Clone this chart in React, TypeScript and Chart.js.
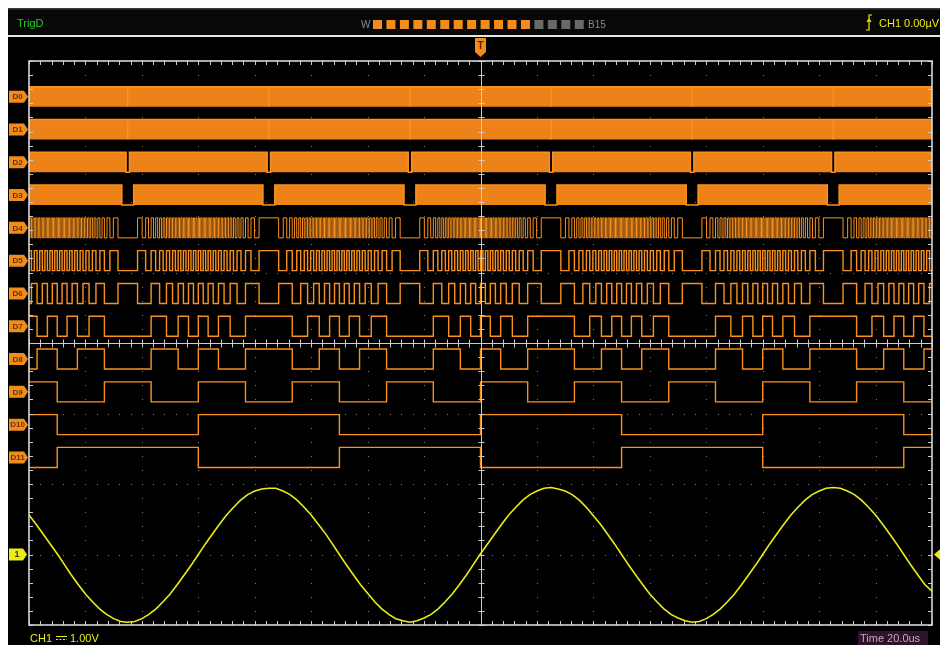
import React, { useEffect, useRef } from "react";
import { Chart, registerables } from "chart.js";

Chart.register(...registerables);

const TIME_MIN_US = -160; // 16 div x 20 µs/div
const TIME_MAX_US = 160;
const TIME_DIV_US = 20;
const CH1_SAMPLE_STEP_US = 2.5;

// CH1 analog trace (volts), one sample every 2.5 µs from -160 µs
const CH1_VOLTS = [
  0.56, 0.43, 0.29, 0.15, 0.01, -0.14, -0.29, -0.43, -0.56, -0.67, -0.77, -0.85, -0.91, -0.95, -0.96, -0.95, -0.91, -0.85, -0.77, -0.67,
  -0.56, -0.43, -0.29, -0.15, 0.0, 0.15, 0.29, 0.43, 0.56, 0.67, 0.77, 0.85, 0.9, 0.93, 0.94, 0.94, 0.9, 0.85, 0.77, 0.67,
  0.56, 0.43, 0.3, 0.15, 0.0, -0.15, -0.29, -0.43, -0.55, -0.67, -0.77, -0.85, -0.91, -0.94, -0.96, -0.94, -0.9, -0.85, -0.77, -0.67,
  -0.56, -0.43, -0.29, -0.14, 0.01, 0.15, 0.29, 0.43, 0.56, 0.67, 0.77, 0.85, 0.9, 0.94, 0.95, 0.93, 0.9, 0.85, 0.77, 0.67,
  0.55, 0.43, 0.29, 0.15, 0.0, -0.15, -0.29, -0.43, -0.56, -0.67, -0.77, -0.85, -0.9, -0.94, -0.96, -0.95, -0.91, -0.85, -0.77, -0.67,
  -0.56, -0.43, -0.29, -0.15, 0.0, 0.15, 0.29, 0.43, 0.56, 0.67, 0.77, 0.85, 0.9, 0.94, 0.95, 0.94, 0.9, 0.85, 0.77, 0.67,
  0.56, 0.43, 0.29, 0.15, 0.0, -0.15, -0.29, -0.43, -0.52,
];

// times (µs) where CH1 crosses 0 V; every digital bit toggles there
const ZERO_CROSSINGS_US = [-150, -100, -50, 0, 50, 100, 150];

const CHANNEL_LABELS = ["D0", "D1", "D2", "D3", "D4", "D5", "D6", "D7", "D8", "D9", "D10", "D11"];
// logic level of each channel at the left edge of the screen
const START_LEVELS = [1, 0, 1, 0, 0, 1, 0, 1, 0, 1, 1, 0];

// D0..D3 toggle faster than a pixel: half width (µs) of the burst around each zero crossing
const BURST_HALF_WIDTH_US = [25, 25, 24.4, 22.9];

// further edges (µs before and after each zero crossing) of the slower bits
const D4_OFFSETS_US = [
  0.43, 0.86, 1.3, 1.73, 2.16, 2.6, 3.04, 3.48, 3.92, 4.37, 4.82, 5.28, 5.73, 6.2, 6.67, 7.14, 7.63, 8.12,
  8.62, 9.13, 9.64, 10.18, 10.72, 11.28, 11.86, 12.46, 13.07, 13.72, 14.4, 15.12, 15.89, 16.72, 17.64, 18.67, 19.9, 21.53,
];
const D5_OFFSETS_US = [0.86, 1.73, 2.6, 3.48, 4.37, 5.28, 6.2, 7.14, 8.12, 9.13, 10.18, 11.28, 12.46, 13.72, 15.12, 16.72, 18.67, 21.53];
const D6_OFFSETS_US = [1.73, 3.48, 5.28, 7.14, 9.13, 11.28, 13.72, 16.72, 21.53];
const D7_OFFSETS_US = [3.48, 7.14, 11.28, 16.72];
const D8_OFFSETS_US = [7.14, 16.72];
const D9_OFFSETS_US = [16.72];
const D10_OFFSETS_US: number[] = [];
const D11_OFFSETS_US: number[] = [];
const EDGE_OFFSETS: (number[] | null)[] = [
  null, null, null, null,
  D4_OFFSETS_US, D5_OFFSETS_US, D6_OFFSETS_US, D7_OFFSETS_US, D8_OFFSETS_US, D9_OFFSETS_US, D10_OFFSETS_US, D11_OFFSETS_US,
];

// header bit-activity indicators, W .. B15
const STATUS_BITS = [1, 1, 1, 1, 1, 1, 1, 1, 1, 1, 1, 1, 0, 0, 0, 0];

const TEXT_TRIG = "TrigD";
const TEXT_TRIG_LEVEL = "CH1 0.00µV";
const TEXT_CH1 = "CH1";
const TEXT_VOLTS = "1.00V";
const TEXT_TIME = "Time 20.0us";

// ---------------- layout constants (divisions) ----------------
const DIG_TOP_MID_DIV = 3.494;
const DIG_SPACING_DIV = 0.4652;
const DIG_HALF_DIV = 0.142;
const CH1_OFFSET_DIV = -3;

const CANVAS_W = 932;
const CANVAS_H = 637;

const ORANGE = "rgb(250,145,30)";
const BAND = "rgb(236,130,24)";
const YELLOW = "rgb(236,236,24)";
const FONT = '"Liberation Sans", Arial, sans-serif';

type Pt = { x: number; y: number };

function edgeTimes(offsets: number[]): number[] {
  const out: number[] = [];
  ZERO_CROSSINGS_US.forEach((z) => {
    out.push(z);
    offsets.forEach((o) => {
      out.push(z - o);
      out.push(z + o);
    });
  });
  return out.filter((t) => t > TIME_MIN_US && t < TIME_MAX_US).sort((a, b) => a - b);
}

function stepPoints(start: number, times: number[], hi: number, lo: number): Pt[] {
  let lvl = start;
  const pts: Pt[] = [{ x: TIME_MIN_US, y: lvl ? hi : lo }];
  times.forEach((t) => {
    lvl = 1 - lvl;
    pts.push({ x: t, y: lvl ? hi : lo });
  });
  pts.push({ x: TIME_MAX_US, y: lvl ? hi : lo });
  return pts;
}

function burstPoints(halfWidth: number, hi: number, lo: number): Pt[] {
  const pts: Pt[] = [];
  ZERO_CROSSINGS_US.forEach((z) => {
    const a = Math.max(z - halfWidth, TIME_MIN_US);
    const b = Math.min(z + halfWidth, TIME_MAX_US);
    if (pts.length === 0 && a > TIME_MIN_US) pts.push({ x: TIME_MIN_US, y: lo });
    pts.push({ x: a, y: hi });
    pts.push({ x: b, y: lo });
  });
  if (pts[pts.length - 1].x < TIME_MAX_US) pts.push({ x: TIME_MAX_US, y: lo });
  return pts;
}

function tag(ctx: CanvasRenderingContext2D, x0: number, yc: number, w: number, h: number, pt: number, fill: string, text: string, tc: string, font: string) {
  ctx.beginPath();
  ctx.moveTo(x0, yc - h / 2);
  ctx.lineTo(x0 + w, yc - h / 2);
  ctx.lineTo(x0 + w + pt, yc);
  ctx.lineTo(x0 + w, yc + h / 2);
  ctx.lineTo(x0, yc + h / 2);
  ctx.closePath();
  ctx.fillStyle = fill;
  ctx.fill();
  ctx.fillStyle = tc;
  ctx.font = font;
  ctx.textAlign = "center";
  ctx.textBaseline = "middle";
  ctx.fillText(text, x0 + w / 2 + 1, yc + 0.5);
}

const scopePlugin = {
  id: "scope",
  beforeDraw(chart: any) {
    const { ctx, width, height } = chart;
    ctx.save();
    ctx.fillStyle = "#000";
    ctx.fillRect(0, 0, width, height);
    // header
    ctx.fillStyle = "#080808";
    ctx.fillRect(0, 0, width, 28);
    ctx.fillStyle = "#3c3c3c";
    ctx.fillRect(0, 0, width, 1.5);
    ctx.fillStyle = "#e4e4e4";
    ctx.fillRect(0, 27, width, 2);

    ctx.font = `11px ${FONT}`;
    ctx.textBaseline = "alphabetic";
    ctx.textAlign = "left";
    ctx.fillStyle = "rgb(40,200,40)";
    ctx.fillText(TEXT_TRIG, 9, 19);

    ctx.font = `10px ${FONT}`;
    ctx.fillStyle = "rgb(140,140,140)";
    ctx.fillText("W", 353, 20);
    STATUS_BITS.forEach((b, i) => {
      ctx.fillStyle = b ? "rgb(242,140,28)" : "rgb(105,105,105)";
      ctx.fillRect(365 + i * 13.45, 12, 9, 9);
    });
    ctx.fillStyle = "rgb(140,140,140)";
    ctx.fillText("B15", 580, 20);

    // trigger edge icon + level
    ctx.strokeStyle = YELLOW;
    ctx.lineWidth = 1.2;
    ctx.beginPath();
    ctx.moveTo(858, 22);
    ctx.lineTo(861, 22);
    ctx.lineTo(861, 7);
    ctx.lineTo(864, 7);
    ctx.moveTo(859, 14);
    ctx.lineTo(861, 11);
    ctx.lineTo(863, 14);
    ctx.stroke();
    ctx.font = `11px ${FONT}`;
    ctx.fillStyle = YELLOW;
    ctx.fillText(TEXT_TRIG_LEVEL, 871, 19);
    ctx.restore();
  },
  beforeDatasetsDraw(chart: any) {
    const { ctx } = chart;
    const xs = chart.scales.x;
    const ys = chart.scales.y;
    ctx.save();
    ctx.fillStyle = "rgb(125,125,125)";
    for (let i = 1; i < 16; i++) {
      if (i === 8) continue;
      const px = Math.round(xs.getPixelForValue(TIME_MIN_US + TIME_DIV_US * i));
      for (let j = 0; j <= 40; j++) {
        const py = Math.round(ys.getPixelForValue(-4 + j / 5));
        ctx.fillRect(px, py, 1, 1);
      }
    }
    for (let j = 1; j < 8; j++) {
      if (j === 4) continue;
      const py = Math.round(ys.getPixelForValue(-4 + j));
      for (let i = 0; i <= 80; i++) {
        const px = Math.round(xs.getPixelForValue(TIME_MIN_US + (TIME_DIV_US / 5) * i));
        ctx.fillRect(px, py, 1, 1);
      }
    }
    ctx.restore();
  },
  afterDatasetsDraw(chart: any) {
    const { ctx } = chart;
    const xs = chart.scales.x;
    const ys = chart.scales.y;
    const { left, right, top, bottom } = chart.chartArea;
    ctx.save();
    // centre cross with ticks
    const cx = Math.round(xs.getPixelForValue(0)) + 0.5;
    const cy = Math.round(ys.getPixelForValue(0)) + 0.5;
    ctx.strokeStyle = "rgb(205,205,205)";
    ctx.lineWidth = 1;
    ctx.beginPath();
    ctx.moveTo(cx, top);
    ctx.lineTo(cx, bottom);
    ctx.moveTo(left, cy);
    ctx.lineTo(right, cy);
    for (let i = 0; i <= 80; i++) {
      const px = Math.round(xs.getPixelForValue(TIME_MIN_US + (TIME_DIV_US / 5) * i)) + 0.5;
      ctx.moveTo(px, cy - 4);
      ctx.lineTo(px, cy + 4);
      ctx.moveTo(px, top);
      ctx.lineTo(px, top + 4);
      ctx.moveTo(px, bottom);
      ctx.lineTo(px, bottom - 4);
    }
    for (let j = 0; j <= 40; j++) {
      const py = Math.round(ys.getPixelForValue(-4 + j / 5)) + 0.5;
      ctx.moveTo(cx - 3, py);
      ctx.lineTo(cx + 3, py);
      ctx.moveTo(left, py);
      ctx.lineTo(left + 4, py);
      ctx.moveTo(right, py);
      ctx.lineTo(right - 4, py);
    }
    ctx.stroke();
    // frame
    ctx.lineWidth = 1.6;
    ctx.strokeStyle = "rgb(215,215,215)";
    ctx.strokeRect(left, top, right - left, bottom - top);

    // channel tags
    CHANNEL_LABELS.forEach((lab, k) => {
      const yc = ys.getPixelForValue(DIG_TOP_MID_DIV - k * DIG_SPACING_DIV);
      tag(ctx, 1, yc, 15, 12, 4, "rgb(240,140,30)", lab, "rgb(110,50,0)", `bold 8px ${FONT}`);
    });
    const y1 = ys.getPixelForValue(CH1_OFFSET_DIV);
    tag(ctx, 1, y1, 14, 12, 4, YELLOW, "1", "rgb(60,60,0)", `bold 9px ${FONT}`);
    // right-hand trigger level marker
    ctx.fillStyle = YELLOW;
    ctx.beginPath();
    ctx.moveTo(right + 2, y1);
    ctx.lineTo(right + 9, y1 - 6);
    ctx.lineTo(right + 14, y1 - 6);
    ctx.lineTo(right + 14, y1 + 6);
    ctx.lineTo(right + 9, y1 + 6);
    ctx.closePath();
    ctx.fill();
    // trigger position marker T
    const tx = xs.getPixelForValue(0);
    ctx.fillStyle = "rgb(240,140,30)";
    ctx.beginPath();
    ctx.moveTo(tx - 5.5, 30);
    ctx.lineTo(tx + 5.5, 30);
    ctx.lineTo(tx + 5.5, 44);
    ctx.lineTo(tx, 49);
    ctx.lineTo(tx - 5.5, 44);
    ctx.closePath();
    ctx.fill();
    ctx.fillStyle = "rgb(90,40,0)";
    ctx.font = `bold 10px ${FONT}`;
    ctx.textAlign = "center";
    ctx.textBaseline = "middle";
    ctx.fillText("T", tx, 38);

    // bottom status line
    ctx.textAlign = "left";
    ctx.textBaseline = "alphabetic";
    ctx.font = `11px ${FONT}`;
    ctx.fillStyle = YELLOW;
    ctx.fillText(TEXT_CH1, 22, 634);
    ctx.strokeStyle = YELLOW;
    ctx.lineWidth = 1;
    ctx.beginPath();
    ctx.moveTo(48, 628.5);
    ctx.lineTo(59, 628.5);
    ctx.stroke();
    ctx.setLineDash([2, 1.5]);
    ctx.beginPath();
    ctx.moveTo(48, 631.5);
    ctx.lineTo(59, 631.5);
    ctx.stroke();
    ctx.setLineDash([]);
    ctx.fillText(TEXT_VOLTS, 62, 634);
    ctx.fillStyle = "rgb(45,20,45)";
    ctx.fillRect(850, 623, 70, 14);
    ctx.fillStyle = "rgb(205,165,185)";
    ctx.fillText(TEXT_TIME, 852, 634);
    ctx.restore();
  },
};

export default function App() {
  const ref = useRef<HTMLCanvasElement | null>(null);
  useEffect(() => {
    document.documentElement.style.overflow = "hidden";
    document.body.style.margin = "8px 0 0 8px";
    const canvas = ref.current;
    if (!canvas) return;

    const datasets: any[] = [];
    CHANNEL_LABELS.forEach((label, k) => {
      const mid = DIG_TOP_MID_DIV - k * DIG_SPACING_DIV;
      const hi = mid + DIG_HALF_DIV;
      const lo = mid - DIG_HALF_DIV;
      const offsets = EDGE_OFFSETS[k];
      if (offsets === null) {
        datasets.push({
          label,
          data: burstPoints(BURST_HALF_WIDTH_US[k], hi, lo),
          stepped: "before",
          borderColor: ORANGE,
          backgroundColor: BAND,
          borderWidth: 1.5,
          pointRadius: 0,
          fill: { value: lo },
        });
      } else {
        datasets.push({
          label,
          data: stepPoints(START_LEVELS[k], edgeTimes(offsets), hi, lo),
          stepped: "before",
          borderColor: ORANGE,
          borderWidth: k === 4 ? 1 : 1.4,
          pointRadius: 0,
          fill: false,
        });
      }
    });
    datasets.push({
      label: "CH1",
      data: CH1_VOLTS.map((v, i) => ({ x: TIME_MIN_US + i * CH1_SAMPLE_STEP_US, y: v + CH1_OFFSET_DIV })),
      borderColor: YELLOW,
      borderWidth: 1.6,
      pointRadius: 0,
      tension: 0,
      fill: false,
    });

    const chart = new Chart(canvas, {
      type: "line",
      data: { datasets },
      options: {
        animation: false,
        responsive: false,
        events: [],
        layout: { padding: { left: 21, top: 53, right: CANVAS_W - 924, bottom: CANVAS_H - 617 } },
        elements: { line: { borderJoinStyle: "miter", borderCapStyle: "butt" } },
        plugins: { legend: { display: false }, tooltip: { enabled: false } },
        scales: {
          x: { type: "linear", min: TIME_MIN_US, max: TIME_MAX_US, display: false },
          y: { type: "linear", min: -4, max: 4, display: false },
        },
      },
      plugins: [scopePlugin],
    } as any);
    return () => chart.destroy();
  }, []);
  return (
    <div style={{ width: CANVAS_W, height: CANVAS_H }}>
      <canvas ref={ref} width={CANVAS_W} height={CANVAS_H} style={{ display: "block", width: CANVAS_W, height: CANVAS_H }} />
    </div>
  );
}
